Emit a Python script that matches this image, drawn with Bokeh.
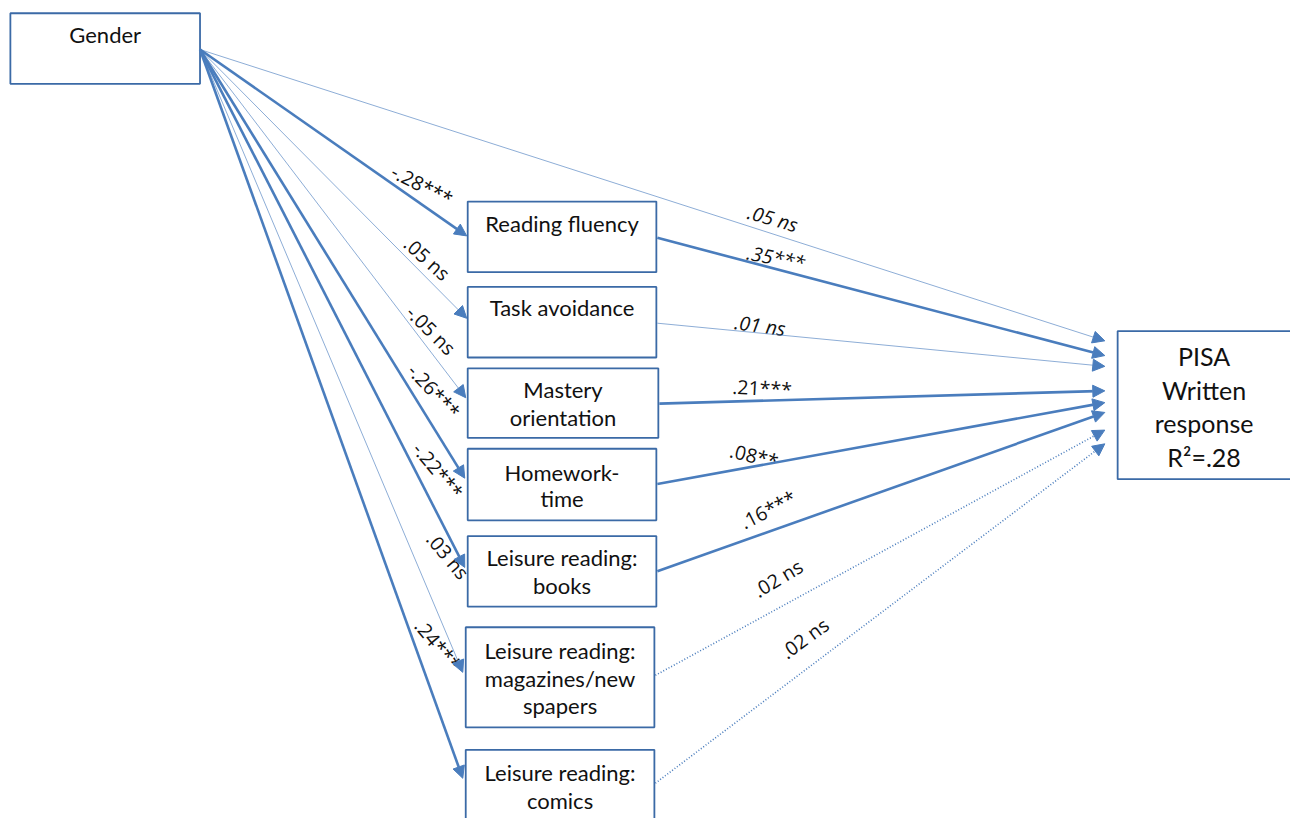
from bokeh.plotting import figure
from bokeh.models import Range1d, ColumnDataSource, Arrow, NormalHead
from bokeh.core.properties import value
from bokeh.embed import file_html
from bokeh.resources import INLINE

# ---------------- data ----------------
source_node = "Gender"
outcome_lines = ["PISA", "Written", "response", "R\u00b2=.28"]
mediator_lines = [
    ["Reading fluency"],
    ["Task avoidance"],
    ["Mastery", "orientation"],
    ["Homework-", "time"],
    ["Leisure reading:", "books"],
    ["Leisure reading:", "magazines/new", "spapers"],
    ["Leisure reading:", "comics"],
]
gender_coef = ["-.28***", ".05 ns", "-.05 ns", "-.26***", "-.22***", ".03 ns", ".24***"]
pisa_coef = [".35***", ".01 ns", ".21***", ".08**", ".16***", ".02 ns", ".02 ns"]
direct_coef = ".05 ns"

# ---------------- layout (pixel space of the diagram) ----------------
BLUE = "#4a7dbd"
BOX = "#3b6aa6"
FONT = value("Lato")
LFONT = value("Open Sans")

gender_box = (10, 202, 13, 85)
gender_text_y = [35]
pisa_box = (1131, 1310, 337, 488)
pisa_text_y = [362, 397, 431, 465]
med_boxes = [
    (473, 664, 205, 277),
    (473, 664, 292, 364),
    (473, 666, 375, 446),
    (473, 664, 457, 530),
    (473, 664, 546, 618),
    (471, 662, 639, 741),
    (471, 662, 764, 845),
]
med_text_y = [[227], [313], [397, 425], [481, 508], [568, 596], [663, 691, 719], [787, 816]]

g_start = (202, 50)
g_tips = [(472, 240), (472, 324), (471, 405), (470, 487), (470, 578), (468, 685), (468, 793)]
m_starts = [(665, 242), (665, 329), (667, 411), (665, 493), (665, 582), (663, 688), (663, 798)]
p_tips_y = [362, 373, 398, 410, 420, 438, 452]
p_tip_x = 1118
direct_tip = (1118, 347)

g_styles = ["thick", "thin", "thin", "thick", "thick", "thin", "thick"]
p_styles = ["thick", "thin", "thick", "thick", "thick", "dot", "dot"]

g_lab = [(427, 188, -27), (432, 263, -42), (436, 336, -45), (439, 398, -47),
         (443, 479, -50), (453, 566, -50), (443, 657, -50)]
p_lab = [(785, 262, -11), (769, 331, -8), (771, 395, -3), (763, 464, -14),
         (777, 519, 27), (787, 589, 31), (814, 650, 36)]
p_italic = [True, True, False, False, False, False, False]
direct_lab = (782, 222, -16)

# ---------------- figure ----------------
p = figure(width=1290, height=818, x_range=Range1d(0, 1306), y_range=Range1d(834, 0),
           output_backend="svg", toolbar_location=None, min_border=0)
p.axis.visible = False
p.grid.visible = False
p.outline_line_color = None
p.background_fill_color = "white"

styles = {
    "thick": dict(line_width=2.6, line_dash="solid", line_alpha=1.0),
    "thin": dict(line_width=0.9, line_dash="solid", line_alpha=0.7),
    "dot": dict(line_width=1.6, line_dash="1 2", line_alpha=1.0),
}

def add_arrows(xs0, ys0, xs1, ys1, style):
    st = styles[style]
    src = ColumnDataSource(dict(x0=xs0, y0=ys0, x1=xs1, y1=ys1))
    head = NormalHead(size=12, fill_color=BLUE, line_color=BLUE, line_width=1)
    p.add_layout(Arrow(end=head, x_start="x0", y_start="y0", x_end="x1", y_end="y1",
                       source=src, line_color=BLUE, **st))

# Gender -> mediators
for style in ["thin", "thick"]:
    idx = [i for i, s in enumerate(g_styles) if s == style]
    add_arrows([g_start[0]] * len(idx), [g_start[1]] * len(idx),
               [g_tips[i][0] for i in idx], [g_tips[i][1] for i in idx], style)

# direct path
add_arrows([g_start[0]], [g_start[1]], [direct_tip[0]], [direct_tip[1]], "thin")

# mediators -> PISA
for style in ["thin", "dot", "thick"]:
    idx = [i for i, s in enumerate(p_styles) if s == style]
    add_arrows([m_starts[i][0] for i in idx], [m_starts[i][1] for i in idx],
               [p_tip_x] * len(idx), [p_tips_y[i] for i in idx], style)

# boxes
all_boxes = [gender_box] + med_boxes + [pisa_box]
p.quad(left=[b[0] for b in all_boxes], right=[b[1] for b in all_boxes],
       top=[b[2] for b in all_boxes], bottom=[b[3] for b in all_boxes],
       fill_color="white", line_color=BOX, line_width=1.8)

# box texts
tx, ty, tt = [], [], []
for b, lines, ys in zip(med_boxes, mediator_lines, med_text_y):
    for line, yy in zip(lines, ys):
        tx.append((b[0] + b[1]) / 2)
        ty.append(yy)
        tt.append(line)
tx.append((gender_box[0] + gender_box[1]) / 2)
ty.append(gender_text_y[0])
tt.append(source_node)
p.text(x=tx, y=ty, text=tt, text_font=FONT, text_font_size="22px", text_color="#111111",
       text_align="center", text_baseline="middle")

p.text(x=[(pisa_box[0] + 1306) / 2] * 4, y=pisa_text_y, text=outcome_lines,
       text_font=FONT, text_font_size="25px", text_color="#111111",
       text_align="center", text_baseline="middle")

# coefficient labels
p.text(x=[l[0] for l in g_lab], y=[l[1] for l in g_lab], text=gender_coef,
       angle=[l[2] for l in g_lab], angle_units="deg", text_font=LFONT,
       text_font_size="19.5px", text_color="#111111", text_align="center",
       text_baseline="middle")

for italic in [True, False]:
    idx = [i for i in range(len(pisa_coef)) if p_italic[i] == italic]
    p.text(x=[p_lab[i][0] for i in idx], y=[p_lab[i][1] for i in idx],
           text=[pisa_coef[i] for i in idx], angle=[p_lab[i][2] for i in idx],
           angle_units="deg", text_font=LFONT, text_font_size="19.5px",
           text_font_style="italic" if italic else "normal", text_color="#111111",
           text_align="center", text_baseline="middle")

p.text(x=[direct_lab[0]], y=[direct_lab[1]], text=[direct_coef], angle=[direct_lab[2]],
       angle_units="deg", text_font=LFONT, text_font_size="19.5px", text_font_style="italic",
       text_color="#111111", text_align="center", text_baseline="middle")

open("out.html", "w").write(file_html(p, INLINE))
